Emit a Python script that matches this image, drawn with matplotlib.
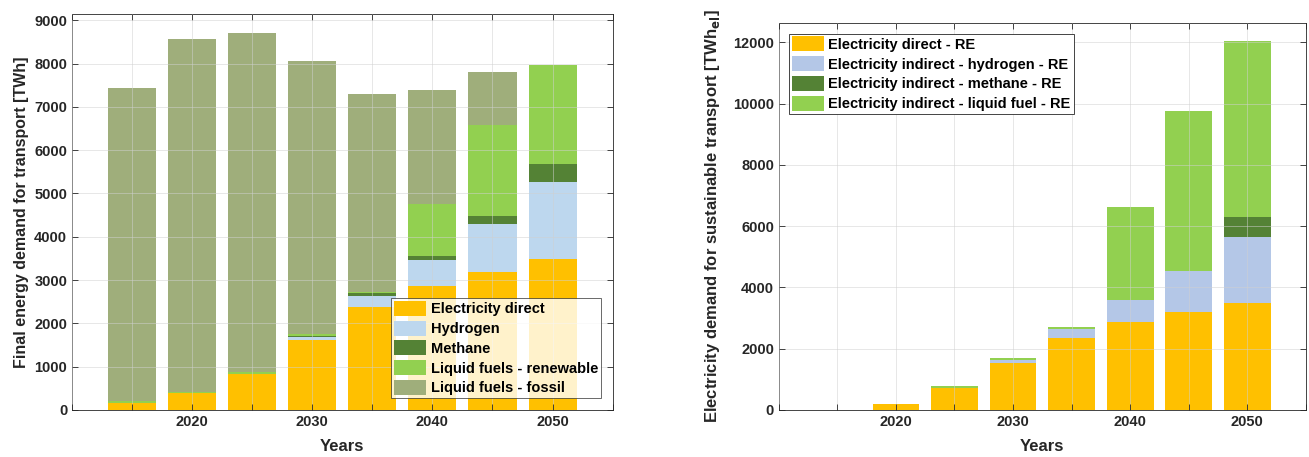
import numpy as np
import matplotlib.pyplot as plt

plt.rcParams['font.family'] = ['Liberation Sans', 'DejaVu Sans']
plt.rcParams['font.weight'] = 'bold'
plt.rcParams['axes.labelweight'] = 'bold'

years = [2015, 2020, 2025, 2030, 2035, 2040, 2045, 2050]

# left: final energy demand for transport [TWh]
elec = [165, 380, 820, 1605, 2380, 2860, 3185, 3475]
hydrogen = [0, 0, 20, 75, 255, 610, 1100, 1795]
methane = [0, 0, 0, 30, 55, 75, 185, 410]
liq_ren = [35, 25, 45, 40, 30, 1210, 2100, 2280]
liq_fos = [7230, 8160, 7830, 6315, 4575, 2625, 1235, 0]

# right: electricity demand for sustainable transport [TWh_el]
re_elec = [0, 190, 720, 1540, 2335, 2855, 3185, 3480]
re_h2 = [0, 0, 0, 75, 310, 720, 1335, 2155]
re_ch4 = [0, 0, 0, 0, 0, 0, 0, 660]
re_liq = [0, 0, 50, 65, 75, 3045, 5245, 5745]

c_el = '#FFC000'
c_h2 = '#BDD7EE'
c_h2b = '#B4C7E7'
c_ch4 = '#548235'
c_ren = '#92D050'
c_fos = '#9FAE7B'

fig = plt.figure(figsize=(13.09, 4.57), dpi=100)
ax1 = fig.add_axes([0.055, 0.103, 0.413, 0.866])
ax2 = fig.add_axes([0.595, 0.103, 0.4025, 0.846])

def stack(ax, series, colors, labels):
    bottom = np.zeros(len(years))
    for vals, col, lab in zip(series, colors, labels):
        ax.bar(years, vals, width=4, bottom=bottom, color=col, label=lab,
               linewidth=0, zorder=1)
        bottom += np.array(vals)

def style(ax, ymax, ystep):
    ax.set_xlim(2010, 2055)
    ax.set_ylim(0, ymax)
    ax.set_xticks(np.arange(2010, 2056, 5))
    ax.set_xticklabels(['' if y % 10 or y == 2010 else str(y)
                        for y in range(2010, 2056, 5)])
    ax.set_yticks(np.arange(0, ymax, ystep))
    ax.tick_params(direction='in', top=True, right=True, length=4,
                   labelsize=10.5, colors='#262626', width=0.6)
    ax.grid(True, color='#d0d0d0', linewidth=0.6, alpha=0.6, zorder=3)
    ax.set_axisbelow(False)
    for s in ax.spines.values():
        s.set_color('#262626')
        s.set_linewidth(0.6)
    ax.set_xlabel('Years', fontsize=12, color='#262626', labelpad=7)

stack(ax1, [elec, hydrogen, methane, liq_ren, liq_fos],
      [c_el, c_h2, c_ch4, c_ren, c_fos],
      ['Electricity direct', 'Hydrogen', 'Methane',
       'Liquid fuels - renewable', 'Liquid fuels - fossil'])
style(ax1, 9140, 1000)
ax1.set_ylabel('Final energy demand for transport [TWh]', fontsize=11.5,
               color='#262626', labelpad=4)
leg1 = ax1.legend(loc='lower right', fontsize=10.5, framealpha=0.8,
                  fancybox=False, edgecolor='#262626', borderpad=0.2,
                  labelspacing=0.3, handlelength=2.2, handleheight=1.2,
                  handletextpad=0.3, borderaxespad=0.8)
leg1.get_frame().set_linewidth(0.6)

stack(ax2, [re_elec, re_h2, re_ch4, re_liq],
      [c_el, c_h2b, c_ch4, c_ren],
      ['Electricity direct - RE', 'Electricity indirect - hydrogen - RE',
       'Electricity indirect - methane - RE',
       'Electricity indirect - liquid fuel - RE'])
style(ax2, 12620, 2000)
ax2.set_ylabel('Electricity demand for sustainable transport [TWh$_{\\mathbf{el}}$]',
               fontsize=12, color='#262626', labelpad=8)
leg2 = ax2.legend(loc='upper left', fontsize=10.5, framealpha=1,
                  fancybox=False, edgecolor='#262626', borderpad=0.2,
                  labelspacing=0.3, handlelength=2.2, handleheight=1.2,
                  handletextpad=0.3, borderaxespad=0.7)
leg2.get_frame().set_linewidth(0.6)

fig.savefig('out.png', dpi=100)
